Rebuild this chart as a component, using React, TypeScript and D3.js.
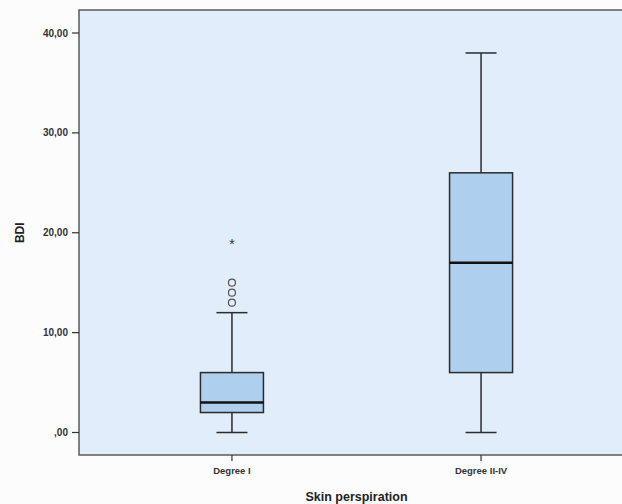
import { useEffect, useRef } from "react";
import * as d3 from "d3";

// BDI by skin perspiration degree
const categories = ["Degree I", "Degree II-IV"];
const mins = [0, 0];
const q1s = [2, 6];
const medians = [3, 17];
const q3s = [6, 26];
const maxs = [12, 38];
const outliers = [[13, 14, 15], []];
const extremes = [[19], []];
const yTicks = [0, 10, 20, 30, 40];

const fmt = (v: number) => (v === 0 ? ",00" : v.toFixed(2).replace(".", ","));

export default function App() {
    const ref = useRef<SVGSVGElement>(null);

    useEffect(() => {
        const svg = d3.select(ref.current);
        svg.selectAll("*").remove();

        const width = 622;
        const left = 79;
        const top = 10;
        const bottom = 455;
        const right = 640;

        const y = d3.scaleLinear().domain([0, 40]).range([432.5, 33]);
        const x = d3.scalePoint<string>()
            .domain(categories)
            .range([left, 634])
            .padding(0.614);
        const boxW = 63;
        const capW = 31;

        svg.append("rect")
            .attr("width", width).attr("height", 504)
            .attr("fill", "#fcfcfc");

        // plot area
        svg.append("rect")
            .attr("x", left).attr("y", top)
            .attr("width", right - left).attr("height", bottom - top)
            .attr("fill", "#e1edfa")
            .attr("stroke", "#5a5a5a")
            .attr("stroke-width", 1.5);

        // y axis ticks
        const yAxis = svg.append("g");
        yTicks.forEach(t => {
            yAxis.append("line")
                .attr("x1", left - 7).attr("x2", left)
                .attr("y1", y(t)).attr("y2", y(t))
                .attr("stroke", "#333").attr("stroke-width", 1.2);
            yAxis.append("text")
                .attr("x", left - 11).attr("y", y(t))
                .attr("dy", "0.35em")
                .attr("text-anchor", "end")
                .attr("font-family", "Liberation Sans, Arial, sans-serif")
                .attr("font-size", 10)
                .attr("font-weight", "bold")
                .attr("fill", "#333")
                .text(fmt(t));
        });

        // x axis ticks + labels
        categories.forEach(c => {
            svg.append("line")
                .attr("x1", x(c)!).attr("x2", x(c)!)
                .attr("y1", bottom).attr("y2", bottom + 6)
                .attr("stroke", "#333").attr("stroke-width", 1.2);
            svg.append("text")
                .attr("x", x(c)!).attr("y", bottom + 19)
                .attr("text-anchor", "middle")
                .attr("font-family", "Liberation Sans, Arial, sans-serif")
                .attr("font-size", 9.5)
                .attr("font-weight", "bold")
                .attr("fill", "#333")
                .text(c);
        });

        // boxes
        categories.forEach((c, i) => {
            const cx = x(c)!;
            const g = svg.append("g").attr("stroke", "#2b2b2b");
            g.append("line")
                .attr("x1", cx).attr("x2", cx)
                .attr("y1", y(maxs[i])).attr("y2", y(q3s[i]))
                .attr("stroke-width", 1.5);
            g.append("line")
                .attr("x1", cx).attr("x2", cx)
                .attr("y1", y(q1s[i])).attr("y2", y(mins[i]))
                .attr("stroke-width", 1.5);
            [maxs[i], mins[i]].forEach(v => {
                g.append("line")
                    .attr("x1", cx - capW / 2).attr("x2", cx + capW / 2)
                    .attr("y1", y(v)).attr("y2", y(v))
                    .attr("stroke-width", 1.5);
            });
            g.append("rect")
                .attr("x", cx - boxW / 2).attr("y", y(q3s[i]))
                .attr("width", boxW).attr("height", y(q1s[i]) - y(q3s[i]))
                .attr("fill", "#aed0ee")
                .attr("stroke-width", 1.5);
            g.append("line")
                .attr("x1", cx - boxW / 2).attr("x2", cx + boxW / 2)
                .attr("y1", y(medians[i])).attr("y2", y(medians[i]))
                .attr("stroke", "#111")
                .attr("stroke-width", 2.5);
            outliers[i].forEach(v => {
                g.append("circle")
                    .attr("cx", cx).attr("cy", y(v)).attr("r", 3.5)
                    .attr("fill", "none")
                    .attr("stroke", "#555")
                    .attr("stroke-width", 1.2);
            });
            extremes[i].forEach(v => {
                g.append("text")
                    .attr("x", cx).attr("y", y(v))
                    .attr("dy", "0.45em")
                    .attr("text-anchor", "middle")
                    .attr("font-family", "Liberation Sans, Arial, sans-serif")
                    .attr("font-size", 14)
                    .attr("stroke", "none")
                    .attr("fill", "#333")
                    .text("*");
            });
        });

        // axis titles
        svg.append("text")
            .attr("transform", `translate(24, ${y(20)}) rotate(-90)`)
            .attr("text-anchor", "middle")
            .attr("font-family", "Liberation Sans, Arial, sans-serif")
            .attr("font-size", 12)
            .attr("font-weight", "bold")
            .attr("fill", "#222")
            .text("BDI");
        svg.append("text")
            .attr("x", (x(categories[0])! + x(categories[1])!) / 2)
            .attr("y", 501)
            .attr("text-anchor", "middle")
            .attr("font-family", "Liberation Sans, Arial, sans-serif")
            .attr("font-size", 12.5)
            .attr("font-weight", "bold")
            .attr("fill", "#222")
            .text("Skin perspiration");
    }, []);

    return (
        <svg ref={ref} width={622} height={504}
            style={{ position: "absolute", left: 0, top: 0 }} />
    );
}
